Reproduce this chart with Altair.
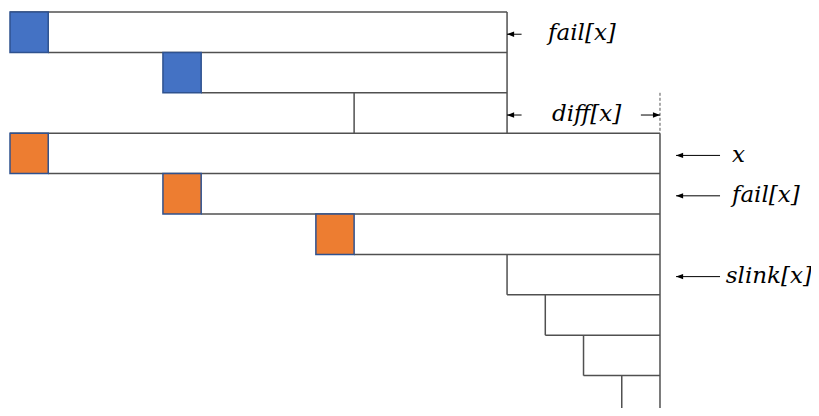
import altair as alt
import pandas as pd

# ---- diagram structure in grid units (columns, rows) ----
# horizontal lines: row index, start column, end column
h_rows = [0, 1, 2, 3, 4, 5, 6, 7, 8, 9]
h_from = [0, 1, 5, 0, 1, 5, 9, 13, 14, 15]
h_to = [13, 13, 13, 17, 17, 17, 17, 17, 17, 17]

# vertical lines: column index, start row, end row
v_cols = [13, 9, 17, 13, 14, 15, 16]
v_from = [0, 2, 3, 6, 7, 8, 9]
v_to = [3, 3, 10, 7, 8, 9, 10]

# dashed guide
d_col = [17]
d_from = [2]
d_to = [3]

# coloured squares
sq_col = [0, 4, 0, 4, 8]
sq_row = [0, 1, 3, 4, 5]
sq_kind = ["blue", "blue", "orange", "orange", "orange"]

# arrows: row, head column, tail column, direction
arrow_row = [0, 2, 2, 3, 4, 6]
arrow_head = [13, 13, 17, 17.42, 17.42, 17.42]
arrow_tail = [13.38, 13.38, 16.5, 18.57, 18.57, 18.57]
arrow_dir = ["left", "left", "right", "left", "left", "left"]

# labels
label_text = ["fail[x]", "diff[x]", "x", "fail[x]", "slink[x]"]
label_col = [14.07, 15.08, 18.88, 18.88, 18.72]
label_row = [0, 2, 3, 4, 6]
label_align = ["left", "center", "left", "left", "left"]

# ---- tables ----
seg = pd.DataFrame(
    [{"x": a, "x2": b, "y": r, "y2": r} for r, a, b in zip(h_rows, h_from, h_to)]
    + [{"x": c, "x2": c, "y": a, "y2": b} for c, a, b in zip(v_cols, v_from, v_to)]
)
dash = pd.DataFrame([{"x": c, "x2": c, "y": a, "y2": b} for c, a, b in zip(d_col, d_from, d_to)])
fill_map = {"blue": "#4472C4", "orange": "#ED7D31"}
sq = pd.DataFrame(
    [{"x": c, "x2": c + 1, "y": r, "y2": r + 1, "fill": fill_map[k]} for c, r, k in zip(sq_col, sq_row, sq_kind)]
)
arr = pd.DataFrame(
    [{"x": h, "x2": t, "y": r + 0.55, "dir": d} for r, h, t, d in zip(arrow_row, arrow_head, arrow_tail, arrow_dir)]
)
lab = pd.DataFrame(
    [{"x": c, "y": r + 0.53, "text": t, "align": a} for t, c, r, a in zip(label_text, label_col, label_row, label_align)]
)

W, H = 803, 400
xs = alt.Scale(domain=[-0.0523, -0.0523 + W / 38.235], nice=False, zero=False)
ys = alt.Scale(domain=[-0.099, -0.099 + H / 40.4], nice=False, zero=False, reverse=True)
X = lambda f: alt.X(f, type="quantitative", scale=xs, axis=None)
Y = lambda f: alt.Y(f, type="quantitative", scale=ys, axis=None)

lines = alt.Chart(seg).mark_rule(color="#505050", strokeWidth=1.5).encode(
    x=X("x"), x2="x2", y=Y("y"), y2="y2"
)
dashed = alt.Chart(dash).mark_rule(color="#555555", strokeWidth=1, strokeDash=[3, 2]).encode(
    x=X("x"), x2="x2", y=Y("y"), y2="y2"
)
squares = alt.Chart(sq).mark_rect(stroke="#2F528F", strokeWidth=1.5).encode(
    x=X("x"), x2="x2", y=Y("y"), y2="y2", fill=alt.Fill("fill:N", scale=None)
)
shafts = alt.Chart(arr).mark_rule(color="black", strokeWidth=1).encode(
    x=X("x"), x2="x2", y=Y("y")
)
heads_l = alt.Chart(arr).transform_filter("datum.dir == 'left'").mark_point(
    shape="M0,0L1,-0.38L1,0.38Z", filled=True, color="black", size=200, opacity=1
).encode(x=X("x"), y=Y("y"))
heads_r = alt.Chart(arr).transform_filter("datum.dir == 'right'").mark_point(
    shape="M0,0L-1,-0.38L-1,0.38Z", filled=True, color="black", size=200, opacity=1
).encode(x=X("x"), y=Y("y"))

text_left = alt.Chart(lab).transform_filter("datum.align == 'left'").mark_text(
    align="left", baseline="middle", font="DejaVu Serif", fontStyle="italic", fontSize=23, color="black"
).encode(x=X("x"), y=Y("y"), text="text:N")
text_center = alt.Chart(lab).transform_filter("datum.align == 'center'").mark_text(
    align="center", baseline="middle", font="DejaVu Serif", fontStyle="italic", fontSize=23, color="black"
).encode(x=X("x"), y=Y("y"), text="text:N")

chart = alt.layer(lines, dashed, squares, shafts, heads_l, heads_r, text_left, text_center).properties(
    width=W, height=H, padding=0, autosize="none", background="white"
).configure_view(stroke=None)

chart.save("out.html", embed_options={"renderer": "svg", "actions": False})
